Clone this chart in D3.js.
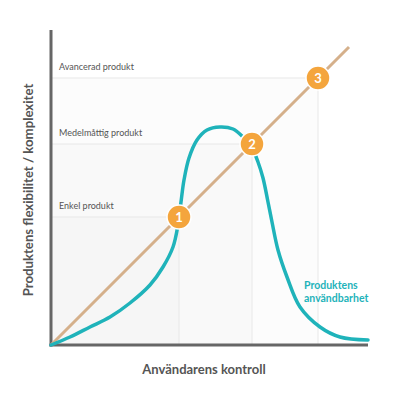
<!DOCTYPE html>
<html>
<head>
<meta charset="utf-8">
<script src="https://cdn.jsdelivr.net/npm/d3@7"></script>
<style>
  body { margin: 0; background: #fff; }
  svg { display: block; font-family: Lato, "Open Sans", sans-serif; }
</style>
</head>
<body>
<div id="chart"></div>
<script>
// Product levels (both axes share the same scale)
const levels = [128, 201, 267];
const levelLabels = ["Enkel produkt", "Medelmåttig produkt", "Avancerad produkt"];
const markerLabels = ["1", "2", "3"];

// Diagonal: flexibility grows with control
const diagonal = [[0, 0], [298, 298]];

// Usability curve
const usabilityX = [0, 19, 39, 59, 79, 99, 112, 122, 127, 130, 133, 138, 146, 156, 169, 182, 192, 201, 207, 212, 217, 221, 227, 236, 249, 269, 289, 317];
const usabilityY = [0, 8, 18, 28, 42, 60, 78, 98, 120, 143, 165, 187, 205, 215, 218, 216, 208, 197, 183, 167, 143, 123, 95, 68, 38, 18, 8, 5];

const width = 395, height = 395;
const svg = d3.select("#chart").append("svg")
  .attr("width", width)
  .attr("height", height);

const x = d3.scaleLinear().domain([0, 320]).range([51, 371]);
const y = d3.scaleLinear().domain([0, 320]).range([345, 25]);

// Nested boxes, largest first
const boxes = levels.map((v, i) => ({ v, label: levelLabels[i] })).reverse();
svg.selectAll(".box")
  .data(boxes)
  .join("rect")
  .attr("class", "box")
  .attr("x", x(0))
  .attr("y", d => y(d.v))
  .attr("width", d => x(d.v) - x(0))
  .attr("height", d => y(0) - y(d.v))
  .attr("fill", "#000")
  .attr("fill-opacity", 0.01)
  .attr("stroke", "#e8e8e8")
  .attr("stroke-width", 1);

svg.selectAll(".level-label")
  .data(levels)
  .join("text")
  .attr("class", "level-label")
  .attr("x", x(0) + 8)
  .attr("y", d => y(d) - 8)
  .attr("font-size", 9)
  .attr("fill", "#555")
  .text((d, i) => levelLabels[i]);

// Axes
svg.append("line")
  .attr("x1", x(0)).attr("x2", x(0))
  .attr("y1", y(315)).attr("y2", y(0) + 1.5)
  .attr("stroke", "#666").attr("stroke-width", 3);
svg.append("line")
  .attr("x1", x(0) - 1.5).attr("x2", x(317))
  .attr("y1", y(0)).attr("y2", y(0))
  .attr("stroke", "#666").attr("stroke-width", 3);

// Diagonal line
svg.append("path")
  .datum(diagonal)
  .attr("d", d3.line().x(d => x(d[0])).y(d => y(d[1])))
  .attr("stroke", "#d5b08b")
  .attr("stroke-width", 3)
  .attr("fill", "none");

// Usability curve
const usability = usabilityX.map((v, i) => [v, usabilityY[i]]);
svg.append("path")
  .datum(usability)
  .attr("d", d3.line().x(d => x(d[0])).y(d => y(d[1])).curve(d3.curveCatmullRom.alpha(0.5)))
  .attr("stroke", "#1fb3ba")
  .attr("stroke-width", 3.5)
  .attr("stroke-linecap", "round")
  .attr("fill", "none");

svg.append("text")
  .attr("x", x(253))
  .attr("font-size", 10.5)
  .attr("font-weight", "bold")
  .attr("fill", "#1fb3ba")
  .selectAll("tspan")
  .data(["Produktens", "användbarhet"])
  .join("tspan")
  .attr("x", x(253))
  .attr("y", (d, i) => y(56) + i * 13)
  .text(d => d);

// Numbered markers on the diagonal
const markers = svg.selectAll(".marker")
  .data(levels)
  .join("g")
  .attr("class", "marker")
  .attr("transform", d => `translate(${x(d)},${y(d)})`);
markers.append("circle")
  .attr("r", 12)
  .attr("fill", "#f4a53d")
  .attr("stroke", "#fff")
  .attr("stroke-width", 1.5);
markers.append("text")
  .attr("text-anchor", "middle")
  .attr("dy", "0.36em")
  .attr("font-size", 13)
  .attr("font-weight", "bold")
  .attr("fill", "#fff")
  .text((d, i) => markerLabels[i]);

// Axis titles
svg.append("text")
  .attr("x", 204)
  .attr("y", 374)
  .attr("text-anchor", "middle")
  .attr("font-size", 13)
  .attr("font-weight", "bold")
  .attr("fill", "#555")
  .text("Användarens kontroll");

svg.append("text")
  .attr("transform", "translate(33,190) rotate(-90)")
  .attr("text-anchor", "middle")
  .attr("font-size", 13.2)
  .attr("font-weight", "bold")
  .attr("fill", "#555")
  .text("Produktens flexibilitet / komplexitet");
</script>
</body>
</html>
